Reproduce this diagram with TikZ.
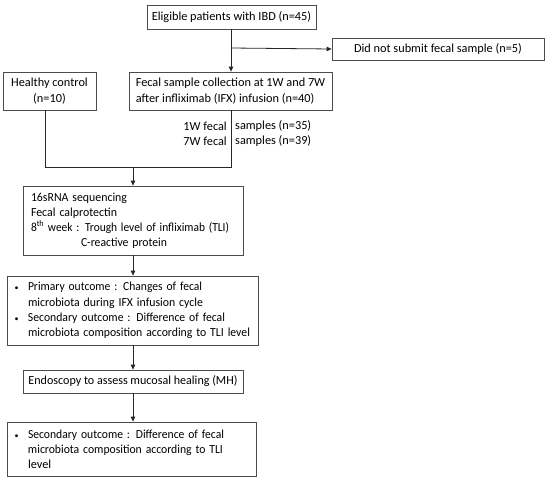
\documentclass[tikz,border=0pt]{standalone}
\usepackage{fontspec}
\usepackage{graphicx}
\setmainfont{Carlito}
\usetikzlibrary{arrows.meta}
\newcommand{\fitw}[2]{\resizebox{#1}{\height}{#2}}
\newcommand{\bul}{\makebox[14pt][l]{\hspace{0.5pt}{\footnotesize\textbullet}}}
\newcommand{\ind}{\hspace*{14pt}}
\begin{document}
\begin{tikzpicture}[x=1pt,y=1pt,
  box/.style={draw=black!70,line width=0.8pt,rectangle,inner ysep=0pt,inner xsep=0pt,font=\fontsize{12.3}{15}\selectfont},
  lab/.style={inner sep=0pt,font=\fontsize{12.3}{15}\selectfont},
  conn/.style={draw=black!85,line width=0.8pt},
  arr/.style={conn,-{Triangle[length=5pt,width=4.5pt]}}]
\useasboundingbox (0,0) rectangle (550,-482);
\node[box,minimum width=169pt,minimum height=24pt] (b1) at (231.5,-17) {Eligible patients with IBD (n=45)};
\node[box,minimum width=212pt,minimum height=22pt] (b2) at (438,-49) {Did not submit fecal sample (n=5)};
\node[box,minimum width=93pt,minimum height=38pt,align=center,font=\fontsize{12.3}{16}\selectfont] (hc) at (49.5,-91) {Healthy control\\(n=10)};
\node[box,minimum width=203pt,minimum height=38pt,align=left,font=\fontsize{12.3}{16}\selectfont] (fs) at (230.5,-91) {Fecal sample collection at 1W and 7W\\after infliximab (IFX) infusion (n=40)};
\node[box,minimum width=220pt,minimum height=69pt,text width=204pt,inner xsep=8pt,align=left] (seq) at (133,-220.5) {%
\fitw{96pt}{16sRNA sequencing}\\
\fitw{86pt}{Fecal calprotectin}\\
\fitw{198pt}{8\textsuperscript{th} week : Trough level of infliximab (TLI)}\\
\hspace*{50pt}\fitw{86pt}{C-reactive protein}};
\node[box,minimum width=251pt,minimum height=69pt,text width=237pt,inner xsep=7pt,align=left,font=\fontsize{12.3}{15.3}\selectfont] (out) at (132.5,-310.5) {%
\bul\fitw{174pt}{Primary outcome : Changes of fecal}\\
\ind\fitw{175pt}{microbiota during IFX infusion cycle}\\
\bul\fitw{197pt}{Secondary outcome : Difference of fecal}\\
\ind\fitw{222pt}{microbiota composition according to TLI level}};
\node[box,minimum width=220pt,minimum height=23pt] (endo) at (133,-381.5) {\fitw{209pt}{Endoscopy to assess mucosal healing (MH)}};
\node[box,minimum width=249pt,minimum height=54pt,text width=235pt,inner xsep=7pt,align=left] (last) at (131.5,-449) {%
\bul\fitw{196pt}{Secondary outcome : Difference of fecal}\\
\ind\fitw{195pt}{microbiota composition according to TLI}\\
\ind level};
\node[lab,anchor=east] (t1a) at (227,-126) {1W fecal};
\node[lab,anchor=west] (t1b) at (235,-126) {samples (n=35)};
\node[lab,anchor=east] (t2a) at (227,-141) {7W fecal};
\node[lab,anchor=west] (t2b) at (235,-141) {samples (n=39)};
\coordinate (br) at (231,-48);
\coordinate (j1) at (45,-167);
\coordinate (j2) at (231,-167);
\coordinate (jm) at (133,-167);
\draw[arr] (b1.south -| br) -- (fs.north -| br);
\draw[arr] (br) -- (b2.west);
\draw[conn] (hc.south -| j1) -- (j1) -- (j2) -- (fs.south -| j2);
\draw[arr] (jm) -- (seq.north);
\draw[arr] (seq.south) -- (out.north -| seq.south);
\draw[arr] (out.south -| endo.north) -- (endo.north);
\draw[arr] (endo.south) -- (last.north -| endo.south);
\end{tikzpicture}
\end{document}
